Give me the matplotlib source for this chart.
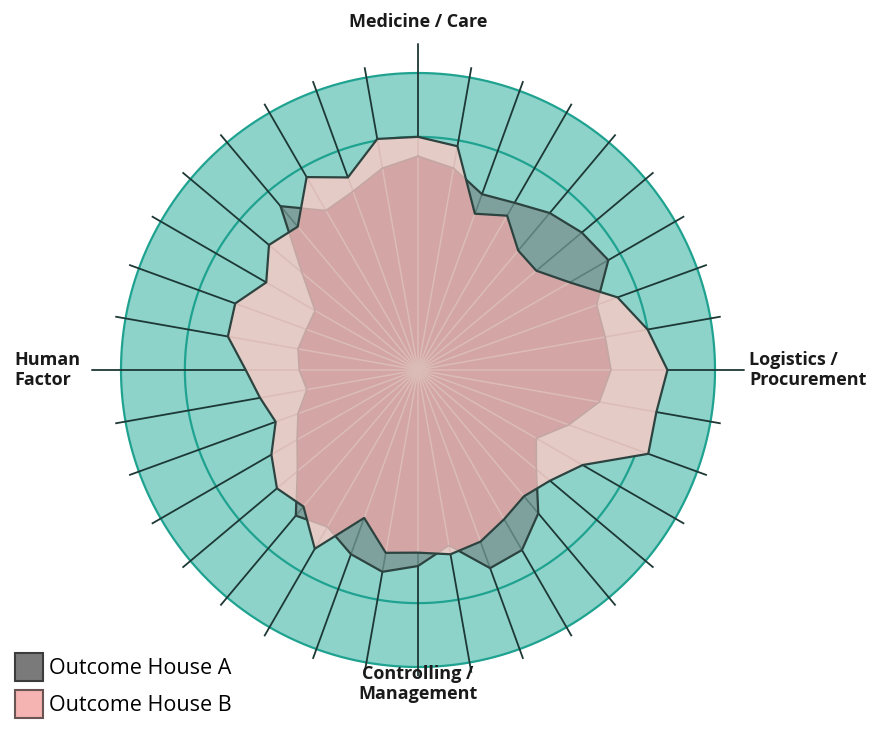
import numpy as np
import matplotlib
matplotlib.use("Agg")
import matplotlib.pyplot as plt
from matplotlib.patches import Patch

# 36 criteria, one every 10 degrees, clockwise from top
angles_deg = np.arange(0, 360, 10)
house_a = [72, 69, 63, 65, 69, 72, 74, 64, 64, 65, 62, 54, 46, 52, 63, 70, 71, 60,
           66, 69, 66, 61, 64, 53, 47, 43, 38, 40, 41, 40, 40, 51, 72, 62, 64, 69]
house_b = [78.5, 76.5, 56, 60, 52.5, 52, 59, 71.5, 78.5, 84, 81.5, 82.5, 64, 58, 55.5, 58, 61.5, 63,
           61.5, 62.5, 53, 69.5, 60, 62, 57, 51, 54, 58, 65, 65.5, 59, 65.5, 63, 75, 69, 79]
axis_labels = ["Medicine / Care", "Logistics /\nProcurement",
               "Controlling /\nManagement", "Human\nFactor"]
legend_labels = ["Outcome House A", "Outcome House B"]
ring_levels = [78.5, 100]

teal = '#8dd3ca'
ring_col = '#1fa290'
spoke_col = '#1d3835'
dark_line = '#2c4340'
gray_fill = '#7fa19d'
beige_fill = '#e4cbc5'
pink_fill = '#d3a6a5'

fig = plt.figure(figsize=(8.86, 7.34), dpi=100)
W, H = 886, 734
cx, cy, rpx = 418, 370, 297 * 1.1
ax = fig.add_axes([(cx - rpx) / W, (H - cy - rpx) / H, 2 * rpx / W, 2 * rpx / H],
                  projection='polar')
ax.set_theta_zero_location('N')
ax.set_theta_direction(-1)
ax.set_ylim(0, 110)
ax.axis('off')

theta = np.deg2rad(angles_deg)
tc = np.append(theta, theta[0])
a_c = np.append(house_a, house_a[0])
b_c = np.append(house_b, house_b[0])

# background disk and rings
circ = np.linspace(0, 2 * np.pi, 721)
ax.fill_between(circ, 0, 100, color=teal, lw=0, zorder=1)
for lvl in ring_levels:
    ax.plot(circ, np.full_like(circ, lvl), color=ring_col, lw=1.6, zorder=2)

# spokes
def spoke_len(d):
    if d in (0, 90, 270):
        return 110
    if d == 180:
        return 103
    return 103.5

for d, t in zip(angles_deg, theta):
    ax.plot([t, t], [0, spoke_len(d)], color=spoke_col, lw=1.3, zorder=2.5,
            solid_capstyle='butt')

# house A
polyA = ax.fill(tc, a_c, color=gray_fill, lw=0, zorder=3)[0]
for t in theta:
    ln, = ax.plot([t, t], [0, 100], color='#5b807b', lw=1.2, zorder=3.1)
    ln.set_clip_path(polyA)
ax.plot(tc, a_c, color=dark_line, lw=1.6, zorder=3.2)

# house B (beige where only B, pink where overlapping A)
polyB = ax.fill(tc, b_c, color=beige_fill, lw=0, zorder=4)[0]
inter = ax.fill(tc, b_c, color=pink_fill, lw=0, zorder=4.1)[0]
inter.set_clip_path(polyA)
for t in theta:
    ln, = ax.plot([t, t], [0, 100], color='#dbbcb7', lw=1.1, zorder=4.2)
    ln.set_clip_path(polyB)
faintA, = ax.plot(tc, a_c, color='#c4a7a2', lw=1.2, zorder=4.3)
faintA.set_clip_path(polyB)
ax.plot(tc, b_c, color=dark_line, lw=1.6, zorder=5)

# axis labels
font = 'Open Sans'
lab = dict(fontsize=13, fontweight='bold', family=font, color='#1a1a1a', linespacing=1.15)
fig.text(cx / W, 1 - 22 / H, axis_labels[0], ha='center', va='center', **lab)
fig.text(749 / W, 1 - 370 / H, axis_labels[1], ha='left', va='center', **lab)
fig.text(cx / W, 1 - 684 / H, axis_labels[2], ha='center', va='center', **lab)
fig.text(14 / W, 1 - 370 / H, axis_labels[3], ha='left', va='center', **lab)

handles = [Patch(facecolor='#7a7a7a', edgecolor='#3c3c3c', lw=1.5),
           Patch(facecolor='#f5b3b1', edgecolor='#6a5555', lw=1.5)]
fig.legend(handles, legend_labels, loc='lower left',
           bbox_to_anchor=(15 / W, (H - 718) / H), frameon=False,
           prop={'family': font, 'size': 15.5}, handlelength=1.3, handleheight=1.62,
           handletextpad=0.3, labelspacing=0.42, borderpad=0, borderaxespad=0)

fig.savefig('out.png', dpi=100)
